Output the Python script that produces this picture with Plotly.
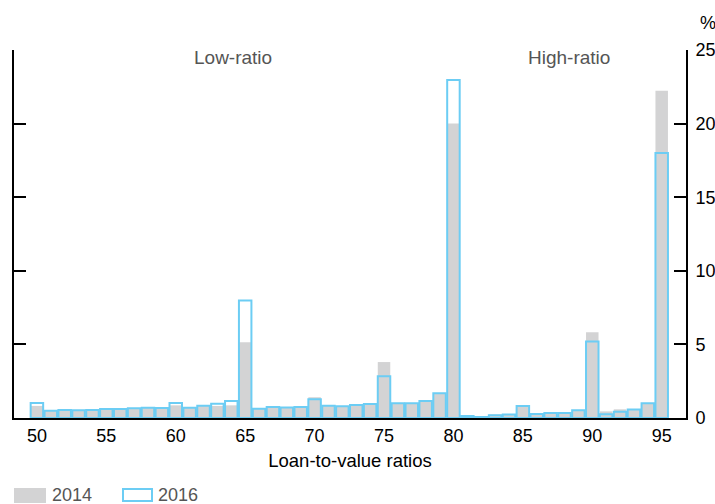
import plotly.graph_objects as go

ltv = list(range(50, 96))
y2014 = [0.82, 0.50, 0.54, 0.52, 0.54, 0.61, 0.63, 0.68, 0.70, 0.68,
         0.86, 0.70, 0.84, 0.82, 0.86, 5.14, 0.63, 0.75, 0.72, 0.75,
         1.41, 0.84, 0.79, 0.88, 0.95, 3.80, 1.00, 1.00, 1.15, 1.68,
         20.0, 0.14, 0.07, 0.24, 0.23, 0.82, 0.30, 0.40, 0.34, 0.52,
         5.82, 0.45, 0.59, 0.61, 1.00, 22.24]
y2016 = [1.02, 0.50, 0.54, 0.52, 0.54, 0.61, 0.61, 0.66, 0.70, 0.68,
         1.02, 0.70, 0.84, 0.97, 1.15, 7.98, 0.63, 0.75, 0.72, 0.75,
         1.27, 0.84, 0.79, 0.88, 0.95, 2.83, 1.00, 1.00, 1.15, 1.68,
         22.96, 0.14, 0.07, 0.18, 0.23, 0.82, 0.27, 0.34, 0.34, 0.52,
         5.20, 0.25, 0.43, 0.57, 1.00, 18.0]
x_ticks = [50, 55, 60, 65, 70, 75, 80, 85, 90, 95]
y_ticks = [0, 5, 10, 15, 20, 25]

GRAY = "#d3d3d4"
BLUE = "#6ccdf4"
TXT = "#555555"
FONT = "Liberation Sans, Arial, sans-serif"

fig = go.Figure()
fig.add_trace(go.Bar(x=ltv, y=y2014, name="2014", width=0.9,
                     marker=dict(color=GRAY, line=dict(width=0))))
fig.add_trace(go.Bar(x=ltv, y=y2016, name="2016", width=0.9,
                     marker=dict(color="rgba(0,0,0,0)", line=dict(color=BLUE, width=2))))

fig.update_layout(
    width=715, height=504,
    margin=dict(l=14, r=29, t=50, b=86),
    barmode="overlay",
    plot_bgcolor="white", paper_bgcolor="white",
    showlegend=False,
    font=dict(family=FONT, size=18, color="black"),
    xaxis=dict(range=[48.35, 96.75], tickvals=x_ticks, showline=True,
               linecolor="black", linewidth=2, ticks="", showgrid=False,
               zeroline=False, automargin=False,
               title=dict(text="Loan-to-value ratios", standoff=9,
                          font=dict(size=18.5, color="black"))),
    yaxis=dict(range=[0, 25], tickvals=y_ticks, side="right", showline=True,
               linecolor="black", linewidth=2, ticks="inside", ticklen=12,
               tickwidth=2, tickcolor="black", mirror="ticks", showgrid=False,
               zeroline=False, automargin=False, ticklabelstandoff=4),
)

W = 715 - 14 - 29
H = 504 - 50 - 86
def px(xp):
    return (xp - 14) / W
def py(yp):
    return (504 - 86 - yp) / H

fig.add_annotation(x=64.15, y=py(58), xref="x", yref="paper", text="Low-ratio",
                   showarrow=False, yanchor="middle",
                   font=dict(size=19, color=TXT))
fig.add_annotation(x=88.3, y=py(58), xref="x", yref="paper", text="High-ratio",
                   showarrow=False, yanchor="middle",
                   font=dict(size=19, color=TXT))
fig.add_annotation(x=px(708), y=py(23), xref="paper", yref="paper", text="%",
                   showarrow=False, xanchor="center", yanchor="middle",
                   font=dict(size=18, color="black"))

# legend swatches
fig.add_shape(type="rect", xref="paper", yref="paper",
              x0=px(14), x1=px(46), y0=py(503), y1=py(488),
              fillcolor=GRAY, line=dict(width=0))
fig.add_shape(type="rect", xref="paper", yref="paper",
              x0=px(123), x1=px(152), y0=py(501), y1=py(489),
              fillcolor="white", line=dict(color=BLUE, width=2))
fig.add_annotation(x=px(50), y=py(495), xref="paper", yref="paper", text="2014",
                   showarrow=False, xanchor="left", yanchor="middle",
                   font=dict(size=18, color=TXT))
fig.add_annotation(x=px(156), y=py(495), xref="paper", yref="paper", text="2016",
                   showarrow=False, xanchor="left", yanchor="middle",
                   font=dict(size=18, color=TXT))

fig.write_html("out.html", config={"displayModeBar": False},
               post_script="document.body.style.margin='0';")
